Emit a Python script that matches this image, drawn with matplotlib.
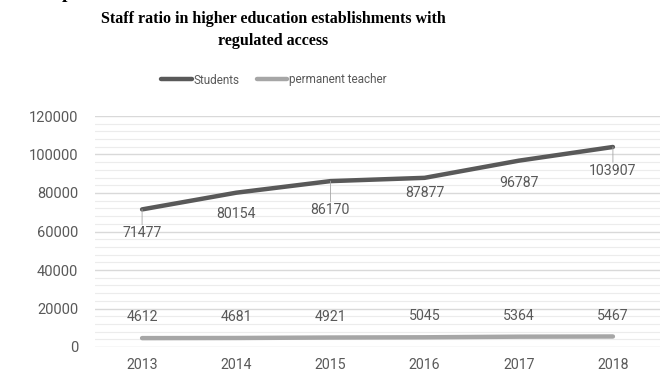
import numpy as np
import matplotlib
matplotlib.use('Agg')
import matplotlib.pyplot as plt
from matplotlib.ticker import MultipleLocator

# Data
years = ['2013', '2014', '2015', '2016', '2017', '2018']
students = [71477, 80154, 86170, 87877, 96787, 103907]
teachers = [4612, 4681, 4921, 5045, 5364, 5467]

# label offsets below the students line (points)
stud_off = [-17, -15, -21, -11, -16, -17]

W, H = 667, 374
fig = plt.figure(figsize=(W / 100, H / 100), dpi=100)
ax = fig.add_axes([95 / W, 1 - 347 / H, 565 / W, 231 / H])

txt_col = '#595959'
fnt = 'Roboto'
x = np.arange(len(years))

ax.plot(x, students, color='#595959', lw=3.2, solid_capstyle='round', label='Students', zorder=3)
ax.plot(x, teachers, color='#a6a6a6', lw=3.2, solid_capstyle='round', label='permanent teacher', zorder=3)

ax.set_xlim(-0.5, len(years) - 0.5)
ax.set_ylim(0, 120000)
ax.yaxis.set_major_locator(MultipleLocator(20000))
ax.yaxis.set_minor_locator(MultipleLocator(4000))
ax.grid(which='major', axis='y', color='#d9d9d9', lw=1.0)
ax.grid(which='minor', axis='y', color='#ececec', lw=0.8)
ax.set_axisbelow(True)
ax.set_xticks(x)
ax.set_xticklabels(years)
for s in ax.spines.values():
    s.set_visible(False)
ax.tick_params(axis='both', which='both', length=0, colors=txt_col)
ax.tick_params(axis='x', pad=8, labelsize=10.2)
ax.tick_params(axis='y', pad=12, labelsize=10.5)
for lbl in ax.get_xticklabels() + ax.get_yticklabels():
    lbl.set_family(fnt)

# data labels
for i, v in enumerate(students):
    ax.annotate(str(v), (i, v), xytext=(0, stud_off[i]), textcoords='offset points',
                ha='center', va='center', fontsize=10.2, color=txt_col, family=fnt)
    if stud_off[i] <= -17:
        ax.annotate('', (i, v), xytext=(0, stud_off[i] + 6), textcoords='offset points',
                    arrowprops=dict(arrowstyle='-', color='#a6a6a6', lw=0.6, shrinkA=0, shrinkB=0))
for i, v in enumerate(teachers):
    ax.annotate(str(v), (i, v), xytext=(0, 15), textcoords='offset points',
                ha='center', va='center', fontsize=10.2, color=txt_col, family=fnt)

# title
fig.text(273 / W, 1 - 30 / H, 'Staff ratio in higher education establishments with\nregulated access',
         ha='center', va='center', fontsize=11.5, fontweight='bold', family='Liberation Serif',
         linespacing=1.45)
fig.text(67 / W, 1 + 2 / H, 'p', ha='center', va='baseline', fontsize=14, fontweight='bold',
         family='Liberation Serif')

leg = fig.legend(loc='center', bbox_to_anchor=(274 / W, 1 - 80 / H), ncol=2, frameon=False,
                 handlelength=2.55, handletextpad=0.15, columnspacing=1.5,
                 prop={'family': fnt, 'size': 8.5})
for t in leg.get_texts():
    t.set_color(txt_col)

fig.savefig('out.png', dpi=100)
